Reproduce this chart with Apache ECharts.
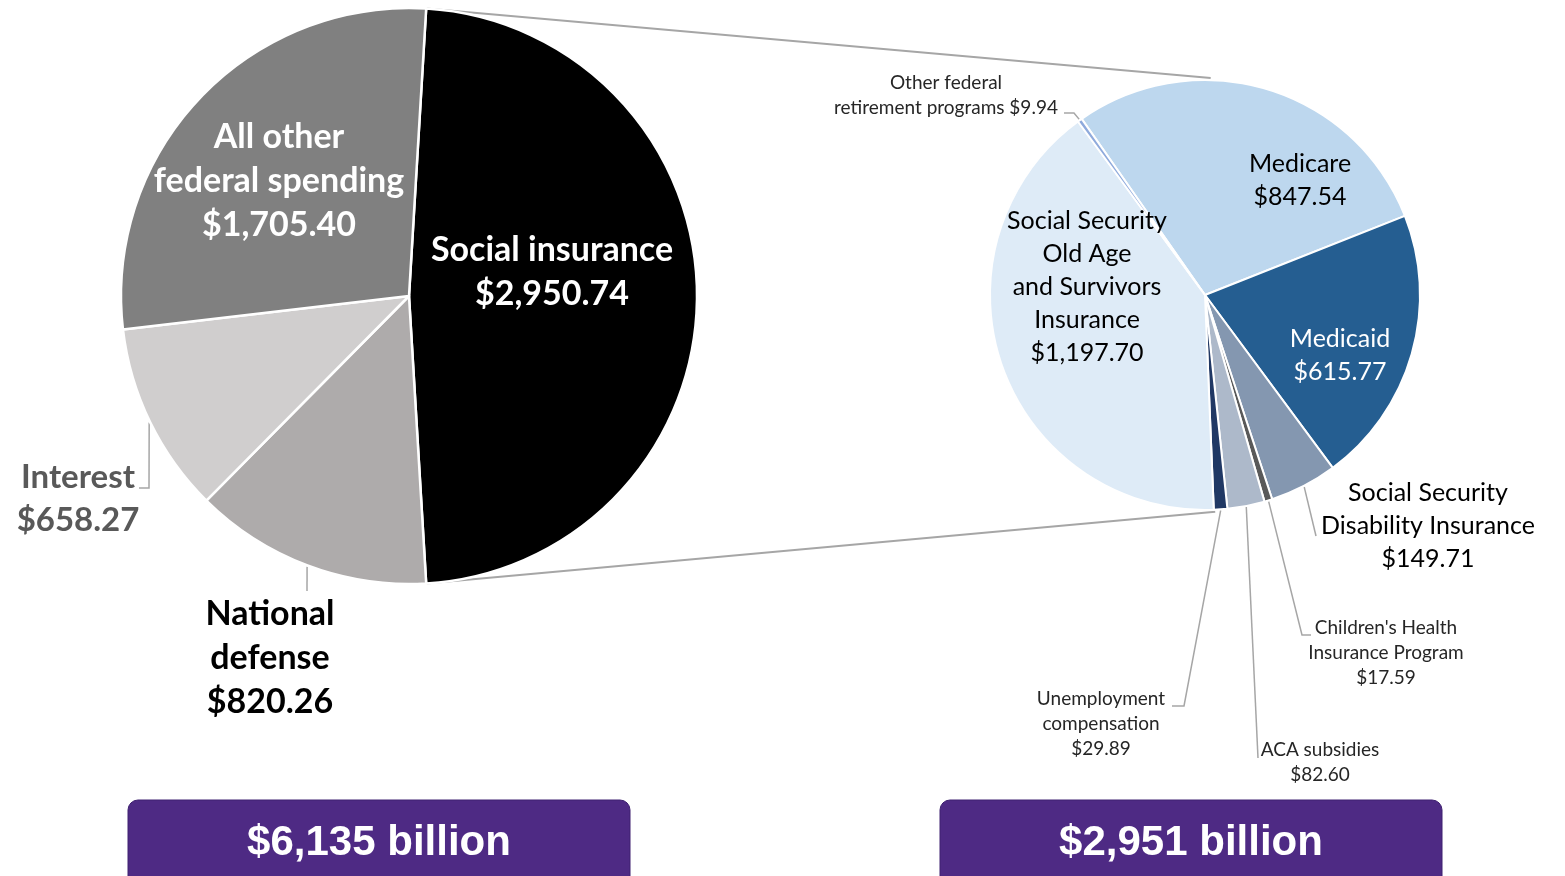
<!DOCTYPE html>
<html>
<head>
<meta charset="utf-8">
<script src="https://cdn.jsdelivr.net/npm/echarts@6/dist/echarts.min.js"></script>
<style>
  html, body { margin: 0; padding: 0; background: #ffffff; }
  #chart { width: 1565px; height: 876px; }
</style>
</head>
<body>
<div id="chart"></div>
<script>
// Federal spending by category ($ billions)
const spendingNames = ['Social insurance', 'National\ndefense', 'Interest', 'All other\nfederal spending'];
const spendingValues = [2950.74, 820.26, 658.27, 1705.40];

// Breakdown of social insurance ($ billions)
const socialNames = [
  'Medicare',
  'Medicaid',
  'Social Security\nDisability Insurance',
  "Children's Health\nInsurance Program",
  'ACA subsidies',
  'Unemployment\ncompensation',
  'Social Security\nOld Age\nand Survivors\nInsurance',
  'Other federal\nretirement programs'
];
const socialValues = [847.54, 615.77, 149.71, 17.59, 82.60, 29.89, 1197.70, 9.94];

// Pie geometry (pixels)
const LEFT = { cx: 409, cy: 296, r: 288 };
const RIGHT = { cx: 1205, cy: 295, r: 215 };

const sum = a => a.reduce((s, v) => s + v, 0);
const money = v => '$' + v.toLocaleString('en-US', { minimumFractionDigits: 2, maximumFractionDigits: 2 });
const billions = v => '$' + Math.round(v).toLocaleString('en-US') + ' billion';

// The social insurance slice is centred on the 3 o'clock direction
const leftStart = (spendingValues[0] / sum(spendingValues)) * 180;
const rightStart = 125;

function midAngles(values, start) {
  const total = sum(values);
  let a = start;
  return values.map(v => {
    const span = v / total * 360;
    const m = a - span / 2;
    a -= span;
    return m;
  });
}
function edgePoint(g, deg, extra) {
  const t = deg * Math.PI / 180;
  const rr = g.r + (extra || 0);
  return [g.cx + rr * Math.cos(t), g.cy - rr * Math.sin(t)];
}
const leftMid = midAngles(spendingValues, leftStart);
const rightMid = midAngles(socialValues, rightStart);

// Label styles and placement
const leftColors = ['#000000', '#AEABAB', '#D0CECE', '#808080'];
const leftLabelStyle = [
  { color: '#ffffff', size: 34, lh: 44, x: 552, y: 272 },
  { color: '#000000', size: 34, lh: 44, x: 270, y: 658, bends: [[307, 591], [307, 591]] },
  { color: '#595959', size: 33, lh: 43, x: 78, y: 499, bends: [[149, 488], [139, 488]] },
  { color: '#ffffff', size: 34, lh: 44, x: 279, y: 181 }
];

const rightColors = ['#BDD7EE', '#255E91', '#8497B0', '#595959', '#ADB9CA', '#203864', '#DEEBF7', '#8FAADC'];
const rightLabelStyle = [
  { color: '#000000', size: 25, lh: 33, x: 1300, y: 180 },
  { color: '#ffffff', size: 25, lh: 33, x: 1340, y: 355 },
  { color: '#000000', size: 25, lh: 33, x: 1428, y: 526, bends: [[1316, 536], [1316, 536]] },
  { color: '#262626', size: 19, lh: 25, x: 1386, y: 653, bends: [[1302, 635], [1311, 635]] },
  { color: '#262626', size: 19, lh: 25, x: 1320, y: 762, bends: [[1258, 758], [1258, 758]] },
  { color: '#262626', size: 19, lh: 25, x: 1101, y: 724, bends: [[1184, 706], [1172, 706]] },
  { color: '#000000', size: 25, lh: 33, x: 1087, y: 287 },
  { color: '#262626', size: 19, lh: 25, x: 946, y: 95, bends: [[1074, 113], [1064, 113]], joiner: ' ' }
];

function buildData(names, values, colors, styles, bold) {
  return names.map((n, i) => {
    const s = styles[i];
    return {
      name: n,
      value: values[i],
      itemStyle: { color: colors[i] },
      label: {
        position: s.bends ? 'outside' : 'inside',
        formatter: n + (s.joiner || '\n') + money(values[i]),
        color: s.color,
        fontSize: s.size,
        lineHeight: s.lh,
        fontWeight: bold ? 'bold' : 'normal'
      },
      labelLine: { show: !!s.bends }
    };
  });
}

function layoutFor(geom, mids, styles) {
  return function (p) {
    const s = styles[p.dataIndex];
    const out = { x: s.x, y: s.y, align: 'center', verticalAlign: 'middle' };
    if (s.bends) {
      out.labelLinePoints = [edgePoint(geom, mids[p.dataIndex], 1)].concat(s.bends);
    }
    return out;
  };
}

// Connector lines joining the social insurance slice to the breakdown pie
const topFrom = edgePoint(LEFT, leftStart, 0);
const botFrom = edgePoint(LEFT, -leftStart, 0);
const topTo = edgePoint(RIGHT, 88.5, 2);
const botTo = edgePoint(RIGHT, -87.3, 2);

const chart = echarts.init(document.getElementById('chart'), null, { renderer: 'canvas' });

const boxes = [
  { x: 128, w: 502, text: billions(sum(spendingValues)) },
  { x: 940, w: 502, text: billions(sum(socialValues)) }
];

chart.setOption({
  backgroundColor: '#ffffff',
  animation: false,
  textStyle: { fontFamily: 'Lato, "Noto Sans", sans-serif' },
  graphic: [
    { type: 'line', z: 0, shape: { x1: topFrom[0], y1: topFrom[1], x2: topTo[0], y2: topTo[1] }, style: { stroke: '#A6A6A6', lineWidth: 2 } },
    { type: 'line', z: 0, shape: { x1: botFrom[0], y1: botFrom[1], x2: botTo[0], y2: botTo[1] }, style: { stroke: '#A6A6A6', lineWidth: 2 } }
  ].concat(boxes.map(b => ({
    type: 'group',
    children: [
      { type: 'rect', shape: { x: b.x, y: 800, width: b.w, height: 100, r: 10 }, style: { fill: '#4E2A84', stroke: '#3E2070', lineWidth: 1 } },
      {
        type: 'text',
        x: b.x + b.w / 2, y: 843,
        style: {
          text: b.text, fill: '#ffffff', align: 'center', verticalAlign: 'middle',
          font: 'bold 42px "Liberation Sans", Arial, sans-serif'
        }
      }
    ]
  }))),
  series: [
    {
      type: 'pie',
      center: [LEFT.cx, LEFT.cy],
      radius: [0, LEFT.r],
      startAngle: leftStart,
      clockwise: true,
      avoidLabelOverlap: false,
      itemStyle: { borderColor: '#ffffff', borderWidth: 2.5 },
      labelLine: { lineStyle: { color: '#A6A6A6', width: 1.5 } },
      emphasis: { disabled: true },
      labelLayout: layoutFor(LEFT, leftMid, leftLabelStyle),
      data: buildData(spendingNames, spendingValues, leftColors, leftLabelStyle, true)
    },
    {
      type: 'pie',
      center: [RIGHT.cx, RIGHT.cy],
      radius: [0, RIGHT.r],
      startAngle: rightStart,
      clockwise: true,
      avoidLabelOverlap: false,
      itemStyle: { borderColor: '#ffffff', borderWidth: 2 },
      labelLine: { lineStyle: { color: '#A6A6A6', width: 1.5 } },
      emphasis: { disabled: true },
      labelLayout: layoutFor(RIGHT, rightMid, rightLabelStyle),
      data: buildData(socialNames, socialValues, rightColors, rightLabelStyle, false)
    }
  ]
});
</script>
</body>
</html>
